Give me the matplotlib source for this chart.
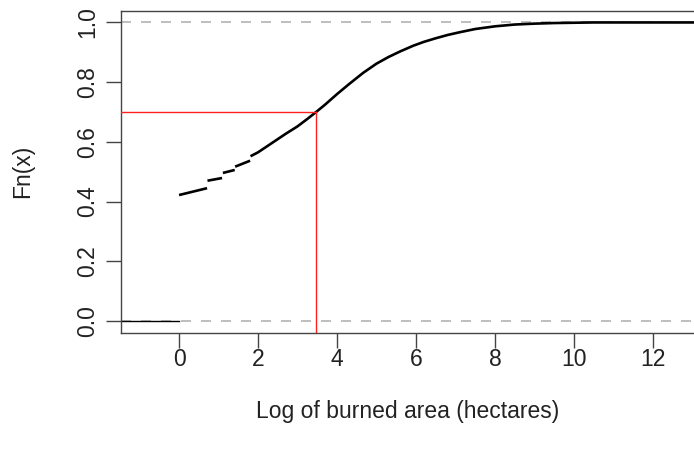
import numpy as np
import matplotlib
matplotlib.use("Agg")
import matplotlib.pyplot as plt

plt.rcParams['font.family'] = ['Liberation Sans', 'DejaVu Sans']

# empirical cdf of log burned area, read off the picture
# (nan marks the small jumps where the step line is broken)
ecdf_x = [0.0, 0.71, np.nan, 0.72, 1.09, np.nan, 1.11, 1.41, np.nan,
          1.42, 1.80, np.nan, 1.81, 2.0, 2.35, 2.7, 3.0, 3.25, 3.47, 3.7,
          4.0, 4.3, 4.66, 5.0, 5.3, 5.6, 5.93, 6.2, 6.5, 6.8, 7.1, 7.5,
          8.0, 8.5, 9.0, 9.5, 10.5, 13.5]
ecdf_y = [0.422, 0.445, np.nan, 0.470, 0.479, np.nan, 0.496, 0.506, np.nan,
          0.517, 0.537, np.nan, 0.552, 0.565, 0.596, 0.627, 0.652, 0.677, 0.700, 0.725,
          0.760, 0.793, 0.831, 0.862, 0.884, 0.903, 0.922, 0.935, 0.947, 0.958, 0.967, 0.978,
          0.987, 0.993, 0.996, 0.998, 1.0, 1.0]

q70 = 3.47      # quantile for Fn = 0.7
p70 = 0.7
xticks = [0, 2, 4, 6, 8, 10, 12]
yticks = [0.0, 0.2, 0.4, 0.6, 0.8, 1.0]

fig = plt.figure(figsize=(6.94, 4.5), dpi=100)
ax = fig.add_axes([121/694, 1 - 333/450, 1 - 121/694, (333 - 10.5)/450])

xmin, xmax = -1.47, 13.04
ax.set_xlim(xmin, xmax)
ax.set_ylim(-0.04, 1.04)

# grey dashed reference lines at 0 and 1
for h in (0, 1):
    ax.axhline(h, color='#b3b3b3', lw=1.2, ls=(0, (6, 6)), zorder=1)

# left part of the step function
ax.plot([xmin, 0], [0, 0], color='black', lw=1.0, zorder=2)
ax.plot(ecdf_x, ecdf_y, color='black', lw=1.9, solid_capstyle='butt', zorder=3)

# quantile lines
ax.plot([xmin, q70], [p70, p70], color='#ff2020', lw=1.0, zorder=4)
ax.plot([q70, q70], [-0.1, p70], color='#ff2020', lw=1.0, zorder=4)

ax.set_xticks(xticks)
ax.set_xticklabels([str(t) for t in xticks])
ax.set_yticks(yticks)
ax.set_yticklabels(['%.1f' % t for t in yticks], rotation=90, va='center')
ax.tick_params(length=11, width=1.0, color='#444444', labelsize=16.5,
               labelcolor='#222222')
ax.tick_params(axis='x', pad=0)
ax.tick_params(axis='y', pad=5)

for side in ('left', 'bottom', 'top'):
    ax.spines[side].set_color('#444444')
    ax.spines[side].set_linewidth(1.0)
ax.spines['right'].set_visible(False)

ax.set_xlabel('Log of burned area (hectares)', fontsize=16.5, color='#222222', labelpad=21)
ax.set_ylabel('Fn(x)', fontsize=16.5, color='#222222', labelpad=30)

fig.savefig('out.png', dpi=100)
